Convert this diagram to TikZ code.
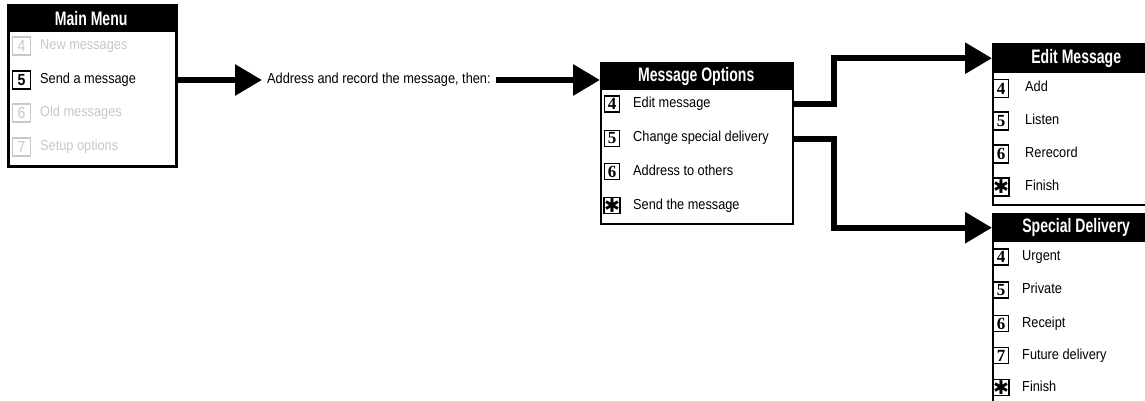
\documentclass[tikz,border=0pt]{standalone}
\usepackage{fontspec}
\setmainfont{Liberation Sans}[FakeStretch=0.88]
\newfontfamily\hdfont{Liberation Sans}[FakeStretch=0.72]
\newfontfamily\numfont{Liberation Serif}
\newfontfamily\symfont{DejaVu Sans}
\usetikzlibrary{arrows.meta}
\definecolor{dim}{RGB}{200,200,200}
\tikzset{
  panel/.style={draw, line width=2pt, fill=white, anchor=north west, inner sep=0pt},
  hdr/.style={fill=black, text=white, anchor=north west, inner sep=0pt,
    font=\hdfont\bfseries\fontsize{19.5}{20}\selectfont},
  item/.style={anchor=west, inner sep=0pt, text height=10pt, text depth=3pt,
    font=\fontsize{14.5}{16}\selectfont},
  numbox/.style={draw, line width=1.6pt, minimum width=15pt, minimum height=16pt,
    inner sep=0pt, font=\numfont\bfseries\fontsize{17}{17}\selectfont},
  starbox/.style={numbox, font=\symfont\bfseries\fontsize{19}{19}\selectfont},
  dimbox/.style={numbox, draw=dim, text=dim, font=\fontsize{16}{16}\selectfont},
  dimitem/.style={item, text=dim},
  conn/.style={line width=6pt, -{Triangle[length=27pt,width=30pt]}}
}
\begin{document}
\begin{tikzpicture}[x=1pt,y=-1pt]
\fill[white] (0,0) rectangle (1145,401);
\useasboundingbox (0,0) rectangle (1145,401);

% Main Menu
\node[panel, minimum width=168pt, minimum height=161pt, line width=2.5pt] (mm) at (7,4) {};
\node[hdr, minimum width=168pt, minimum height=28pt] (mmhd) at (7,4) {Main Menu};
\node[dimbox, minimum width=18pt, minimum height=18pt] (mm4b) at (21.5,46) {4};
\node[dimitem] (mm4) at (40,46) {New messages};
\node[numbox, minimum width=18pt, minimum height=18pt, font=\bfseries\fontsize{16}{16}\selectfont] (mm5b) at (21.5,80) {5};
\node[item] (mm5) at (40,80) {Send a message};
\node[dimbox, minimum width=18pt, minimum height=18pt] (mm6b) at (21.5,113) {6};
\node[dimitem] (mm6) at (40,113) {Old messages};
\node[dimbox, minimum width=18pt, minimum height=18pt] (mm7b) at (21.5,147) {7};
\node[dimitem] (mm7) at (40,147) {Setup options};

% middle text
\node[item, inner xsep=5pt] (addr) at (262,80) {Address and record the message, then:};

% Message Options
\node[panel, minimum width=192pt, minimum height=161pt] (mo) at (600,62) {};
\node[hdr, minimum width=192pt, minimum height=28pt] (mohd) at (600,62) {Message Options};
\node[numbox] (mo4b) at (612,104) {4};
\node[item] (mo4) at (633,104) {Edit message};
\node[numbox] (mo5b) at (612,138.5) {5};
\node[item] (mo5) at (633,138.5) {Change special delivery};
\node[numbox] (mo6b) at (612,171.5) {6};
\node[item] (mo6) at (633,171.5) {Address to others};
\node[starbox] (mo7b) at (612,205.5) {✱};
\node[item] (mo7) at (633,205.5) {Send the message};

% Edit Message
\node[panel, minimum width=168pt, minimum height=161pt] (em) at (992,43) {};
\node[hdr, minimum width=168pt, minimum height=30pt] (emhd) at (992,43) {Edit Message};
\node[numbox, minimum height=18pt] (em4b) at (1001,88.5) {4};
\node[item] (em4) at (1025,88) {Add};
\node[numbox, minimum height=18pt] (em5b) at (1001,121) {5};
\node[item] (em5) at (1025,121) {Listen};
\node[numbox, minimum height=18pt] (em6b) at (1001,154) {6};
\node[item] (em6) at (1025,154) {Rerecord};
\node[starbox, minimum height=18pt] (em7b) at (1001,187) {✱};
\node[item] (em7) at (1025,187) {Finish};

% Special Delivery
\node[panel, minimum width=168pt, minimum height=220pt] (sd) at (992,213) {};
\node[hdr, minimum width=168pt, minimum height=29pt] (sdhd) at (992,213) {Special Delivery};
\node[numbox] (sd4b) at (1001,257) {4};
\node[item] (sd4) at (1022,257) {Urgent};
\node[numbox] (sd5b) at (1001,290) {5};
\node[item] (sd5) at (1022,290) {Private};
\node[numbox] (sd6b) at (1001,323.5) {6};
\node[item] (sd6) at (1022,323.5) {Receipt};
\node[numbox] (sd7b) at (1001,355.5) {7};
\node[item] (sd7) at (1022,355.5) {Future delivery};
\node[starbox] (sd8b) at (1001,387.5) {✱};
\node[item] (sd8) at (1022,387.5) {Finish};

% connectors
\draw[conn] (mm.east |- mm5b) -- (addr.west);
\draw[conn] (addr.east) -- (addr.east -| mo.west);
\draw[conn] (mo.east |- mo4) -- ++(40,0) |- (emhd.west);
\draw[conn] (mo.east |- mo5) -- ++(40,0) |- (sdhd.west);
\end{tikzpicture}
\end{document}
